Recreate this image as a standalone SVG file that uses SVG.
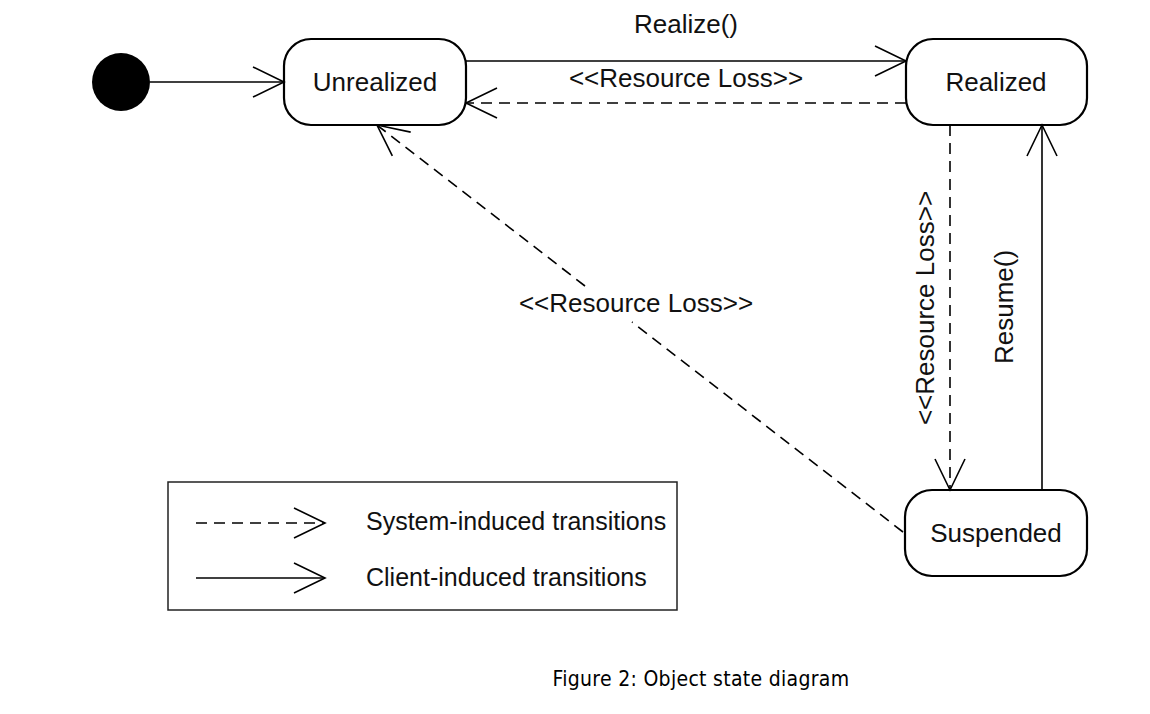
<svg xmlns="http://www.w3.org/2000/svg" width="1150" height="714" viewBox="0 0 1150 714">
  <style>
    .node { fill: #ffffff; stroke: #000; stroke-width: 2.2; }
    .lbl { font-family: "Liberation Sans", Arial, sans-serif; font-size: 26px; fill: #111; }
    .leg { font-family: "Liberation Sans", Arial, sans-serif; font-size: 25px; fill: #111; }
    .mid { text-anchor: middle; }
    .solid { fill: none; stroke: #000; stroke-width: 1.6; }
    .dash { fill: none; stroke: #000; stroke-width: 1.6; stroke-dasharray: 11 7; }
    .cap { font-family: "DejaVu Sans Condensed", "DejaVu Sans", Verdana, sans-serif; font-stretch: condensed; font-size: 21px; letter-spacing: 0.3px; fill: #000; }
  </style>
  <defs>
    <marker id="open" markerUnits="userSpaceOnUse" viewBox="-34 -18 36 36" refX="0" refY="0" markerWidth="36" markerHeight="36" orient="auto" overflow="visible">
      <path d="M -31 -15 L 0 0 L -31 15" fill="none" stroke="#000" stroke-width="1.6"/>
    </marker>
  </defs>
  <rect width="1150" height="714" fill="#ffffff"/>

  <g id="initial">
    <circle cx="121" cy="82" r="29" fill="#000"/>
  </g>
  <g id="unrealized">
    <rect class="node" x="284" y="39" width="182" height="86" rx="27" ry="27"/>
    <text class="lbl mid" x="375" y="91">Unrealized</text>
  </g>
  <g id="realized">
    <rect class="node" x="906" y="39" width="181" height="86" rx="27" ry="27"/>
    <text class="lbl mid" x="996" y="91">Realized</text>
  </g>
  <g id="suspended">
    <rect class="node" x="905" y="490" width="182" height="86" rx="27" ry="27"/>
    <text class="lbl mid" x="996" y="542">Suspended</text>
  </g>

  <g id="connectors">
    <line class="solid" x1="150" y1="82" x2="284" y2="82" marker-end="url(#open)"/>
    <line class="solid" x1="466" y1="61" x2="906" y2="61" marker-end="url(#open)"/>
    <line class="dash" x1="906" y1="103" x2="466" y2="103" marker-end="url(#open)"/>
    <line class="dash" x1="950" y1="125" x2="950" y2="490" marker-end="url(#open)"/>
    <line class="solid" x1="1042" y1="490" x2="1042" y2="125" marker-end="url(#open)"/>
    <line class="dash" x1="903" y1="532" x2="632" y2="322"/>
    <line class="dash" x1="585" y1="286" x2="377" y2="125" marker-end="url(#open)"/>
    <text class="lbl mid" x="686" y="33">Realize()</text>
    <text class="lbl mid" x="686" y="87">&lt;&lt;Resource Loss&gt;&gt;</text>
    <text class="lbl mid" x="636" y="312">&lt;&lt;Resource Loss&gt;&gt;</text>
    <text class="lbl mid" transform="translate(934,308) rotate(-90)">&lt;&lt;Resource Loss&gt;&gt;</text>
    <text class="lbl mid" transform="translate(1013,307) rotate(-90)">Resume()</text>
  </g>

  <g id="legend">
    <rect x="168" y="482" width="509" height="128" fill="none" stroke="#222" stroke-width="1.5"/>
    <line class="dash" x1="196" y1="523" x2="325" y2="523" stroke-dasharray="9 7" marker-end="url(#open)"/>
    <line class="solid" x1="196" y1="578" x2="325" y2="578" marker-end="url(#open)"/>
    <text class="leg" x="366" y="530">System-induced transitions</text>
    <text class="leg" x="366" y="586">Client-induced transitions</text>
  </g>

  <g id="caption">
    <text class="cap mid" x="701" y="686">Figure 2: Object state diagram</text>
  </g>
</svg>
